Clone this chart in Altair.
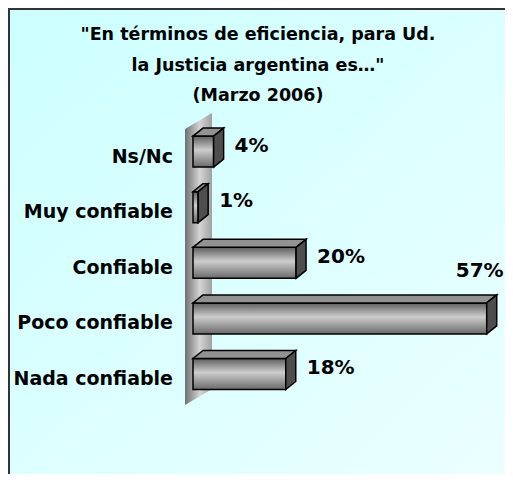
import altair as alt
import pandas as pd

# ---------------- data ----------------
CATEGORIES = ["Ns/Nc", "Muy confiable", "Confiable", "Poco confiable", "Nada confiable"]
VALUES = [4, 1, 20, 57, 18]
LABELS = ["4%", "1%", "20%", "57%", "18%"]
TITLE_LINES = ['"En términos de eficiencia, para Ud.',
               'la Justicia argentina es…"',
               '(Marzo 2006)']

# ---------------- layout (pixels) ----------------
W, H = 497, 466
PX_PER_PCT = 5.153          # pixels per percentage point
ZERO_X = 185                # plot-x pixel of 0 %
ROW_PX = 55.6               # pixels between category rows
LAST_ROW_Y = 366            # plot-y pixel of the last category's centre
FIRST_ROW_Y = LAST_ROW_Y - ROW_PX * (len(CATEGORIES) - 1)
FONT = "DejaVu Sans"

n = len(CATEGORIES)
x_dom = [-ZERO_X / PX_PER_PCT, (W - ZERO_X) / PX_PER_PCT]
y_min = -(H - LAST_ROW_Y) / ROW_PX
y_dom = [y_min, y_min + H / ROW_PX]
XS = alt.Scale(domain=x_dom, nice=False, zero=False)
YS = alt.Scale(domain=y_dom, nice=False, zero=False)

HALF = 15.5 / ROW_PX        # half height of bar front face
DX = 10 / PX_PER_PCT        # 3-D depth, horizontal
DY = 8 / ROW_PX             # 3-D depth, vertical

pos = [n - 1 - i for i in range(n)]
vmax = max(VALUES)
bars = pd.DataFrame({
    "cat": CATEGORIES, "v": VALUES, "label": LABELS, "pos": pos,
})
bars["lo"] = bars["pos"] - HALF
bars["hi"] = bars["pos"] + HALF
bars["zero"] = 0.0
bars["lx"] = [v + ((-31 if v == vmax else 21) / PX_PER_PCT) for v in VALUES]
bars["ly"] = [p + ((47 if v == vmax else 6) / ROW_PX) for p, v in zip(pos, VALUES)]

top_rows, side_rows = [], []
for c, v, p in zip(CATEGORIES, VALUES, pos):
    top_rows.append({"cat": c, "y": p + HALF, "xa": 0.0, "xb": v})
    top_rows.append({"cat": c, "y": p + HALF + DY, "xa": DX, "xb": v + DX})
    side_rows.append({"cat": c, "x": v, "ya": p - HALF, "yb": p + HALF})
    side_rows.append({"cat": c, "x": v + DX, "ya": p - HALF + DY, "yb": p + HALF + DY})
top = pd.DataFrame(top_rows)
side = pd.DataFrame(side_rows)

# wall behind the bars
WALL_L, WALL_R = (177 - ZERO_X) / PX_PER_PCT, (204 - ZERO_X) / PX_PER_PCT
WALL_TOP = (n - 1) + (FIRST_ROW_Y - 121) / ROW_PX
WALL_BOT = -(397 - LAST_ROW_Y) / ROW_PX
WALL_RISE = 16 / ROW_PX
wall = pd.DataFrame({
    "x": [WALL_L, WALL_R],
    "ya": [WALL_BOT, WALL_BOT + WALL_RISE],
    "yb": [WALL_TOP, WALL_TOP + WALL_RISE],
})

one = pd.DataFrame({"k": [0]})

# ---------------- layers ----------------
bg = alt.Chart(one).mark_rect(
    fill=alt.Gradient(gradient="linear", x1=0, y1=0, x2=1, y2=1,
                      stops=[alt.GradientStop(color="#ccffff", offset=0),
                             alt.GradientStop(color="#ebffff", offset=1)])
).encode(x=alt.value(0), x2=alt.value(W), y=alt.value(0), y2=alt.value(H))

border_left = alt.Chart(one).mark_rule(color="#333333", strokeWidth=2).encode(
    x=alt.value(1), y=alt.value(0), y2=alt.value(H))
border_top = alt.Chart(one).mark_rule(color="#333333", strokeWidth=2).encode(
    y=alt.value(1), x=alt.value(0), x2=alt.value(W))

wall_layer = alt.Chart(wall).mark_area(
    orient="vertical",
    fill=alt.Gradient(gradient="linear", x1=0, y1=0, x2=1, y2=0,
                      stops=[alt.GradientStop(color="#707070", offset=0),
                             alt.GradientStop(color="#d4d4d4", offset=0.55),
                             alt.GradientStop(color="#a0a0a0", offset=1)])
).encode(
    x=alt.X("x:Q", scale=XS, axis=None),
    y=alt.Y("ya:Q", scale=YS, axis=None, stack=False),
    y2="yb:Q",
)

front = alt.Chart(bars).mark_rect(
    stroke="black", strokeWidth=1.5,
    fill=alt.Gradient(gradient="linear", x1=0, y1=0, x2=0, y2=1,
                      stops=[alt.GradientStop(color="#5e5e5e", offset=0),
                             alt.GradientStop(color="#cdcdcd", offset=0.45),
                             alt.GradientStop(color="#6a6a6a", offset=1)])
).encode(
    x=alt.X("zero:Q", scale=XS, axis=None), x2="v:Q",
    y=alt.Y("lo:Q", scale=YS, axis=None), y2="hi:Q",
)

top_layer = alt.Chart(top).mark_area(
    orient="horizontal", fill="#929292", stroke="black", strokeWidth=1.5,
    strokeJoin="miter"
).encode(
    y=alt.Y("y:Q", scale=YS, axis=None),
    x=alt.X("xa:Q", scale=XS, axis=None, stack=False),
    x2="xb:Q",
    detail="cat:N",
)

side_layer = alt.Chart(side).mark_area(
    orient="vertical", fill="#4e4e4e", stroke="black", strokeWidth=1.5,
    strokeJoin="miter"
).encode(
    x=alt.X("x:Q", scale=XS, axis=None),
    y=alt.Y("ya:Q", scale=YS, axis=None, stack=False),
    y2="yb:Q",
    detail="cat:N",
)

values_text = alt.Chart(bars).mark_text(
    align="left", baseline="middle", font=FONT, fontWeight="bold",
    fontSize=20, color="black"
).encode(
    x=alt.X("lx:Q", scale=XS, axis=None),
    y=alt.Y("ly:Q", scale=YS, axis=None),
    text="label:N",
)

cat_text = alt.Chart(bars).mark_text(
    align="right", baseline="middle", font=FONT, fontWeight="bold",
    fontSize=19, color="black", dx=-20, dy=5
).encode(
    x=alt.X("zero:Q", scale=XS, axis=None),
    y=alt.Y("pos:Q", scale=YS, axis=None),
    text="cat:N",
)

title = alt.Chart(one).mark_text(
    align="center", baseline="middle", font=FONT, fontWeight="bold",
    fontSize=17.5, lineHeight=30.5, color="black", text=TITLE_LINES
).encode(x=alt.value(250), y=alt.value(27))

chart = alt.layer(
    bg, border_left, border_top, wall_layer, front, top_layer, side_layer,
    values_text, cat_text, title
).properties(
    width=W, height=H, padding=0,
    autosize=alt.AutoSizeParams(type="none"),
).configure_view(strokeWidth=0)

chart.save("out.html", embed_options={"renderer": "svg", "actions": False})
